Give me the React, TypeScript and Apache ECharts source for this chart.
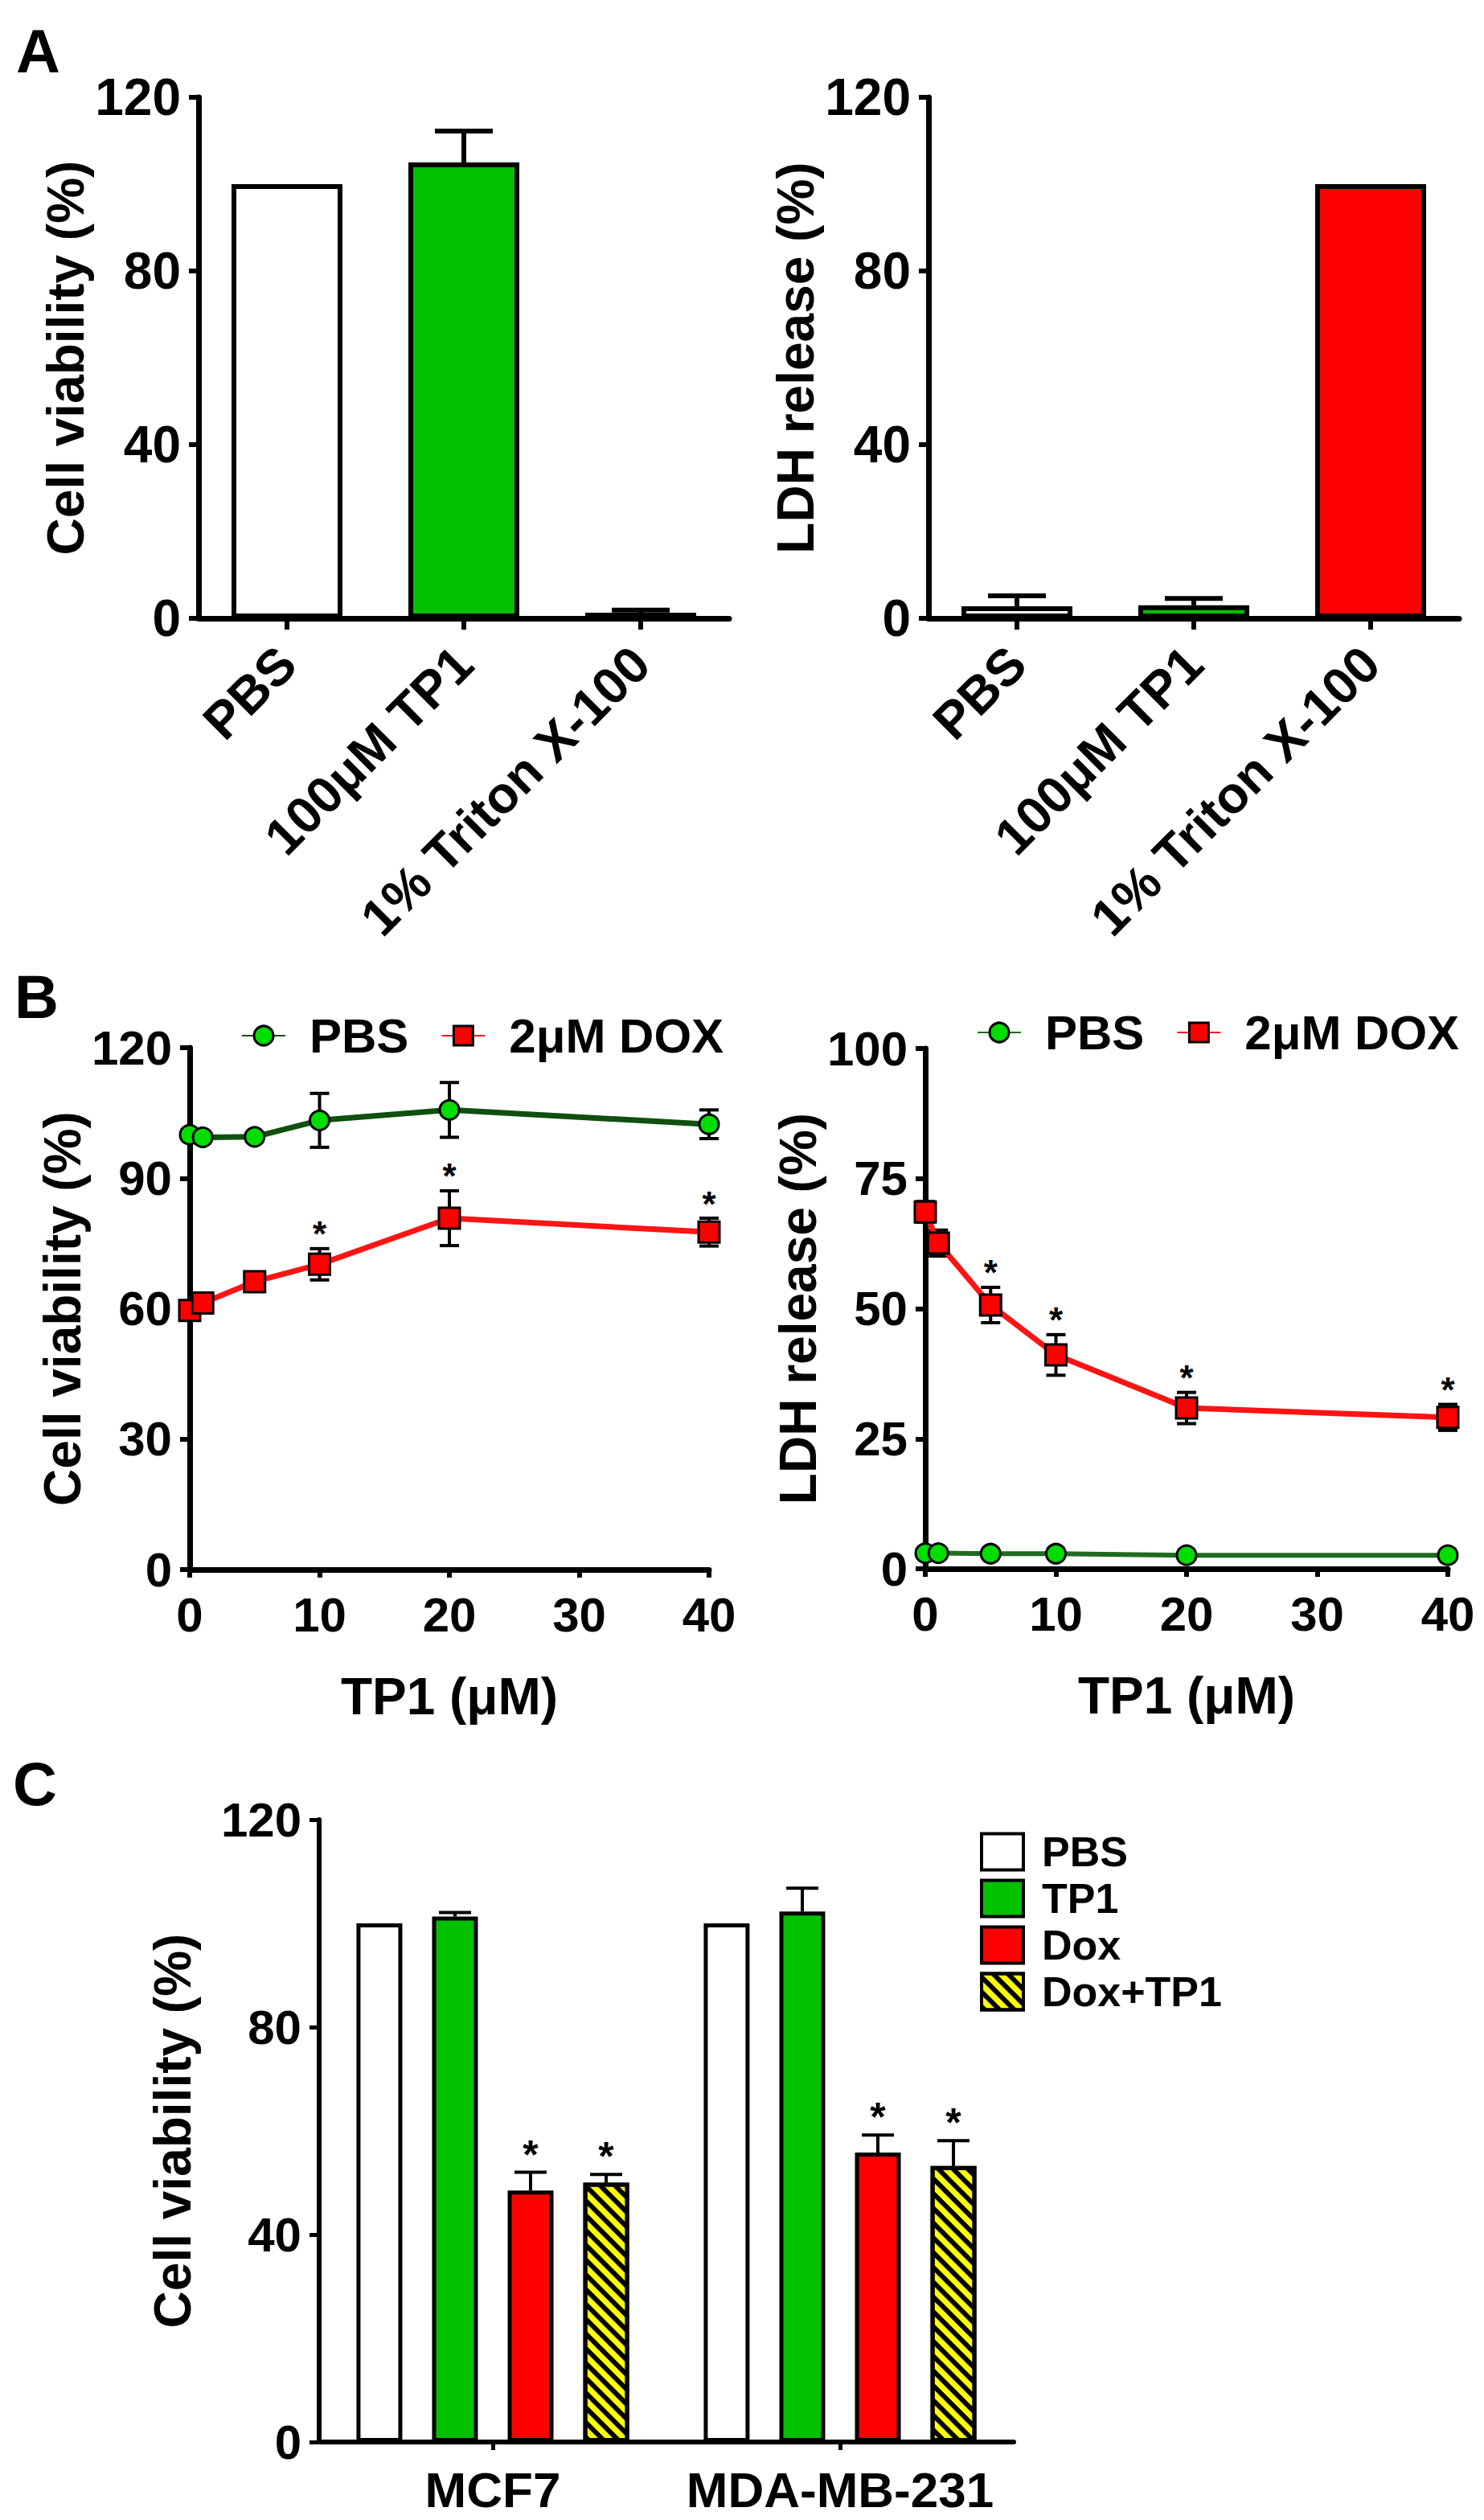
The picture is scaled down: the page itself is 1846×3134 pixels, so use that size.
import React, { useEffect, useRef } from 'react';
import * as echarts from 'echarts';

const FONT = '"Liberation Sans", Arial, Helvetica, sans-serif';

// ---------- Panel A ----------
const A_CATEGORIES = ['PBS', '100μM TP1', '1% Triton X-100'];
const A_VIABILITY = [100, 105, 1.3];
const A_VIABILITY_ERR = [0, 7.2, 0.6];
const A_LDH = [2.8, 3.0, 100];
const A_LDH_ERR = [2.4, 1.6, 0];
const A_BAR_COLORS = ['#ffffff', '#00c000', '#ff0000'];

// ---------- Panel B ----------
const B_DOSES = [0, 1, 5, 10, 20, 40];
const B_VIAB_PBS = [100, 99.4, 99.5, 103.3, 105.7, 102.4];
const B_VIAB_PBS_ERR = [0.5, 0.5, 0.8, 6.2, 6.3, 3.3];
const B_VIAB_DOX = [59.6, 61.3, 66.2, 70.2, 80.8, 77.6];
const B_VIAB_DOX_ERR = [1.5, 1.5, 2.2, 3.6, 6.3, 3.2];
const B_VIAB_STARS = [0, 0, 0, 1, 1, 1];
const B_LDH_PBS = [3.0, 3.0, 2.9, 2.9, 2.6, 2.6];
const B_LDH_PBS_ERR = [0.3, 0.3, 0.3, 0.3, 0.3, 0.3];
const B_LDH_DOX = [68.6, 62.6, 50.7, 41.1, 30.9, 29.1];
const B_LDH_DOX_ERR = [2.0, 2.5, 3.4, 3.9, 3.0, 2.5];
const B_LDH_STARS = [0, 0, 1, 1, 1, 1];
const B_SERIES_NAMES = ['PBS', '2μM DOX'];

// ---------- Panel C ----------
const C_CELLS = ['MCF7', 'MDA-MB-231'];
const C_GROUPS = ['PBS', 'TP1', 'Dox', 'Dox+TP1'];
const C_VALUES = [
  [100, 100],
  [101.3, 102.3],
  [48.5, 55.8],
  [50.0, 53.2],
];
const C_ERRORS = [
  [0, 0],
  [0.8, 4.5],
  [3.5, 3.4],
  [1.6, 4.9],
];
const C_STARS = [
  [0, 0],
  [0, 0],
  [1, 1],
  [1, 1],
];
const C_COLORS = ['#ffffff', '#00c000', '#ff0000', '#ffff00'];

// ---------- layout constants ----------
const C_BAR_W = 57;
const C_BAR_GAP = 37;

type ErrOpts = {
  cap: number;
  lw: number;
  up: boolean;
  starFont?: number;
  starGap?: number;
  pitch?: number;
  nGroup?: number;
};

function makeErrRender(o: ErrOpts) {
  return (_params: any, api: any) => {
    const x = api.value(0);
    const y = api.value(1);
    const e = api.value(2);
    const star = api.value(3);
    const k = api.value(4);
    const pTop = api.coord([x, y + e]);
    const pBot = api.coord([x, o.up ? y : y - e]);
    const off = o.pitch && o.nGroup ? (k - (o.nGroup - 1) / 2) * o.pitch : 0;
    const cx = pTop[0] + off;
    const children: any[] = [];
    const st = { stroke: '#000', lineWidth: o.lw };
    if (e > 0) {
      children.push({ type: 'line', shape: { x1: cx, y1: pBot[1], x2: cx, y2: pTop[1] }, style: st });
      children.push({
        type: 'line',
        shape: { x1: cx - o.cap / 2, y1: pTop[1], x2: cx + o.cap / 2, y2: pTop[1] },
        style: st,
      });
      if (!o.up) {
        children.push({
          type: 'line',
          shape: { x1: cx - o.cap / 2, y1: pBot[1], x2: cx + o.cap / 2, y2: pBot[1] },
          style: st,
        });
      }
    }
    if (star) {
      children.push({
        type: 'text',
        x: cx,
        y: pTop[1] - (o.starGap || 20),
        style: {
          text: '*',
          fill: '#000',
          font: `bold ${o.starFont || 44}px ${FONT}`,
          align: 'center',
          verticalAlign: 'middle',
        },
      });
    }
    return { type: 'group', children };
  };
}

const axisLineStyle = (w: number) => ({ show: true, onZero: false, lineStyle: { color: '#000', width: w } });
const axisTickStyle = (w: number, len: number, align = false) => ({
  show: true,
  inside: false,
  length: len,
  alignWithLabel: align,
  lineStyle: { color: '#000', width: w },
});

function buildOption(): any {
  const grids = [
    { left: 247, top: 121, width: 660, height: 648 },
    { left: 1155, top: 121, width: 660, height: 648 },
    { left: 236, top: 1303, width: 646, height: 649 },
    { left: 1151, top: 1304, width: 650, height: 647 },
    { left: 397, top: 2263, width: 864, height: 774 },
  ];

  const titleStyle = { fontSize: 64, fontWeight: 'bold', color: '#000', fontFamily: FONT };

  const yAxes: any[] = [
    {
      gridIndex: 0, type: 'value', min: 0, max: 120, interval: 40,
      name: 'Cell viability (%)', nameLocation: 'middle', nameGap: 124, nameTextStyle: titleStyle,
      axisLine: axisLineStyle(7), axisTick: axisTickStyle(6, 12), splitLine: { show: false },
      axisLabel: { margin: 22, fontSize: 64, fontWeight: 'bold', color: '#000' },
    },
    {
      gridIndex: 1, type: 'value', min: 0, max: 120, interval: 40,
      name: 'LDH release (%)', nameLocation: 'middle', nameGap: 124, nameTextStyle: titleStyle,
      axisLine: axisLineStyle(7), axisTick: axisTickStyle(6, 12), splitLine: { show: false },
      axisLabel: { margin: 22, fontSize: 64, fontWeight: 'bold', color: '#000' },
    },
    {
      gridIndex: 2, type: 'value', min: 0, max: 120, interval: 30,
      name: 'Cell viability (%)', nameLocation: 'middle', nameGap: 120, nameTextStyle: titleStyle,
      axisLine: axisLineStyle(7), axisTick: axisTickStyle(6, 12), splitLine: { show: false },
      axisLabel: { margin: 22, fontSize: 60, fontWeight: 'bold', color: '#000' },
    },
    {
      gridIndex: 3, type: 'value', min: 0, max: 100, interval: 25,
      name: 'LDH release (%)', nameLocation: 'middle', nameGap: 117, nameTextStyle: titleStyle,
      axisLine: axisLineStyle(7), axisTick: axisTickStyle(6, 12), splitLine: { show: false },
      axisLabel: { margin: 22, fontSize: 60, fontWeight: 'bold', color: '#000' },
    },
    {
      gridIndex: 4, type: 'value', min: 0, max: 120, interval: 40,
      name: 'Cell viability (%)', nameLocation: 'middle', nameGap: 150, nameTextStyle: titleStyle,
      axisLine: axisLineStyle(6), axisTick: axisTickStyle(5, 12), splitLine: { show: false },
      axisLabel: { margin: 22, fontSize: 60, fontWeight: 'bold', color: '#000' },
    },
  ];

  const aXLabel = { interval: 0, rotate: 45, margin: 46, fontSize: 64, fontWeight: 'bold', color: '#000' };
  const xAxes: any[] = [
    {
      gridIndex: 0, type: 'category', data: A_CATEGORIES,
      axisLine: axisLineStyle(7), axisTick: axisTickStyle(6, 14, true), axisLabel: aXLabel,
    },
    {
      gridIndex: 1, type: 'category', data: A_CATEGORIES,
      axisLine: axisLineStyle(7), axisTick: axisTickStyle(6, 14, true), axisLabel: aXLabel,
    },
    {
      gridIndex: 2, type: 'value', min: 0, max: 40, interval: 10,
      name: 'TP1 (μM)', nameLocation: 'middle', nameGap: 126, nameTextStyle: titleStyle,
      axisLine: axisLineStyle(7), axisTick: axisTickStyle(6, 10), splitLine: { show: false },
      axisLabel: { margin: 26, fontSize: 60, fontWeight: 'bold', color: '#000' },
    },
    {
      gridIndex: 3, type: 'value', min: 0, max: 40, interval: 10,
      name: 'TP1 (μM)', nameLocation: 'middle', nameGap: 126, nameTextStyle: titleStyle,
      axisLine: axisLineStyle(7), axisTick: axisTickStyle(6, 10), splitLine: { show: false },
      axisLabel: { margin: 26, fontSize: 60, fontWeight: 'bold', color: '#000' },
    },
    {
      gridIndex: 4, type: 'category', data: C_CELLS,
      axisLine: axisLineStyle(6), axisTick: axisTickStyle(5, 10, true),
      axisLabel: { interval: 0, margin: 28, fontSize: 62, fontWeight: 'bold', color: '#000' },
    },
  ];

  const series: any[] = [];

  // Panel B lines (first, so legends pick them up)
  const lineSeries = (
    name: string, axis: number, xs: number[], ys: number[], lineColor: string,
    fill: string, symbol: string, size: number, width: number,
  ) => ({
    name, type: 'line', xAxisIndex: axis, yAxisIndex: axis, z: 3,
    data: xs.map((x, i) => [x, ys[i]]),
    symbol, symbolSize: size, showAllSymbol: true,
    lineStyle: { color: lineColor, width },
    itemStyle: { color: fill, borderColor: '#000', borderWidth: 3 },
  });

  series.push(lineSeries(B_SERIES_NAMES[0], 2, B_DOSES, B_VIAB_PBS, '#0f4f0f', '#00dd00', 'circle', 24, 7));
  series.push(lineSeries(B_SERIES_NAMES[1], 2, B_DOSES, B_VIAB_DOX, '#ff1414', '#ff0000', 'rect', 26, 7));
  series.push(lineSeries('R:' + B_SERIES_NAMES[0], 3, B_DOSES, B_LDH_PBS, '#1f6a1f', '#00dd00', 'circle', 24, 6));
  series.push(lineSeries('R:' + B_SERIES_NAMES[1], 3, B_DOSES, B_LDH_DOX, '#ff1414', '#ff0000', 'rect', 26, 7));

  const bErr = makeErrRender({ cap: 24, lw: 4, up: false, starFont: 44, starGap: 18 });
  const bErrData = (ys: number[], es: number[], stars: number[] | null) =>
    B_DOSES.map((x, i) => [x, ys[i], es[i], stars ? stars[i] : 0, 0]);
  series.push({ type: 'custom', xAxisIndex: 2, yAxisIndex: 2, z: 1, renderItem: bErr, data: bErrData(B_VIAB_PBS, B_VIAB_PBS_ERR, null) });
  series.push({ type: 'custom', xAxisIndex: 2, yAxisIndex: 2, z: 1, renderItem: bErr, data: bErrData(B_VIAB_DOX, B_VIAB_DOX_ERR, B_VIAB_STARS) });
  series.push({ type: 'custom', xAxisIndex: 3, yAxisIndex: 3, z: 1, renderItem: bErr, data: bErrData(B_LDH_PBS, B_LDH_PBS_ERR, null) });
  series.push({ type: 'custom', xAxisIndex: 3, yAxisIndex: 3, z: 1, renderItem: bErr, data: bErrData(B_LDH_DOX, B_LDH_DOX_ERR, B_LDH_STARS) });

  // Panel A bars
  const aBar = (axis: number, vals: number[]) => ({
    type: 'bar', xAxisIndex: axis, yAxisIndex: axis, barWidth: 138, z: 2,
    data: vals.map((v, i) => ({
      value: v,
      itemStyle: { color: A_BAR_COLORS[i], borderColor: '#000', borderWidth: 6 },
    })),
  });
  series.push(aBar(0, A_VIABILITY));
  series.push(aBar(1, A_LDH));
  const aErr = makeErrRender({ cap: 72, lw: 6, up: true });
  series.push({ type: 'custom', xAxisIndex: 0, yAxisIndex: 0, z: 4, renderItem: aErr,
    data: A_CATEGORIES.map((_, i) => [i, A_VIABILITY[i], A_VIABILITY_ERR[i], 0, 0]) });
  series.push({ type: 'custom', xAxisIndex: 1, yAxisIndex: 1, z: 4, renderItem: aErr,
    data: A_CATEGORIES.map((_, i) => [i, A_LDH[i], A_LDH_ERR[i], 0, 0]) });

  // Panel C bars
  C_GROUPS.forEach((g, k) => {
    const itemStyle: any = { color: C_COLORS[k], borderColor: '#000', borderWidth: 5 };
    if (g === 'Dox+TP1') {
      itemStyle.decal = {
        symbol: 'rect',
        symbolSize: 1,
        color: '#000',
        dashArrayX: [1, 0],
        dashArrayY: [6, 7],
        rotation: Math.PI / 4,
      };
    }
    series.push({
      name: 'C:' + g, type: 'bar', xAxisIndex: 4, yAxisIndex: 4, z: 2,
      barWidth: C_BAR_W, barGap: `${Math.round((C_BAR_GAP / C_BAR_W) * 100)}%`,
      data: C_VALUES[k], itemStyle,
    });
  });
  const cErr = makeErrRender({ cap: 40, lw: 4, up: true, starFont: 50, starGap: 22, pitch: C_BAR_W + C_BAR_GAP, nGroup: C_GROUPS.length });
  const cErrData: any[] = [];
  C_GROUPS.forEach((_, k) => {
    C_CELLS.forEach((__, i) => {
      cErrData.push([i, C_VALUES[k][i], C_ERRORS[k][i], C_STARS[k][i], k]);
    });
  });
  series.push({ type: 'custom', xAxisIndex: 4, yAxisIndex: 4, z: 4, renderItem: cErr, data: cErrData });

  const legends: any[] = [
    {
      data: B_SERIES_NAMES, left: 300, top: 1258, orient: 'horizontal', padding: 0,
      itemWidth: 54, itemHeight: 30, itemGap: 40, selectedMode: false,
      itemStyle: { borderColor: '#000', borderWidth: 3 },
      textStyle: { fontSize: 60, fontWeight: 'bold', color: '#000', padding: [0, 0, 0, 25] },
    },
    {
      data: B_SERIES_NAMES.map((n) => 'R:' + n), left: 1215, top: 1254, orient: 'horizontal', padding: 0,
      itemWidth: 54, itemHeight: 30, itemGap: 40, selectedMode: false,
      formatter: (n: string) => n.slice(2),
      itemStyle: { borderColor: '#000', borderWidth: 3 },
      textStyle: { fontSize: 60, fontWeight: 'bold', color: '#000', padding: [0, 0, 0, 25] },
    },
    {
      data: C_GROUPS.map((g) => 'C:' + g), left: 1219, top: 2277, orient: 'vertical', padding: 0,
      itemWidth: 52, itemHeight: 45, itemGap: 6, icon: 'rect', selectedMode: false,
      formatter: (n: string) => n.slice(2),
      itemStyle: { borderColor: '#000', borderWidth: 4 },
      textStyle: { fontSize: 52, fontWeight: 'bold', color: '#000', padding: [0, 0, 0, 18] },
    },
  ];

  const letter = (t: string, x: number, y: number) => ({
    type: 'text', x, y,
    style: { text: t, fill: '#000', font: `bold 76px ${FONT}`, align: 'left', verticalAlign: 'middle' },
  });

  return {
    animation: false,
    backgroundColor: '#ffffff',
    textStyle: { fontFamily: FONT, color: '#000' },
    grid: grids,
    xAxis: xAxes,
    yAxis: yAxes,
    legend: legends,
    series,
    graphic: [letter('A', 20, 63), letter('B', 18, 1239), letter('C', 16, 2218)],
  };
}

export default function App() {
  const ref = useRef<HTMLDivElement>(null);
  useEffect(() => {
    document.body.style.margin = '0';
    if (!ref.current) return;
    const chart = echarts.init(ref.current, null, { renderer: 'svg' });
    chart.setOption(buildOption());
    return () => chart.dispose();
  }, []);
  return (
    <div
      ref={ref}
      style={{ position: 'absolute', left: 0, top: 0, width: 1846, height: 3134, background: '#fff' }}
    />
  );
}
